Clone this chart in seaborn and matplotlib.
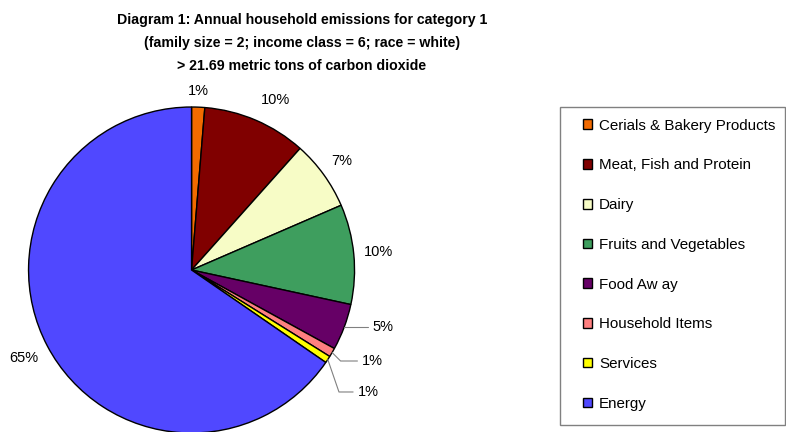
import numpy as np
import seaborn as sns
import matplotlib
matplotlib.use("Agg")
import matplotlib.pyplot as plt
from matplotlib.patches import Rectangle

sns.set_style("white")
plt.rcParams['font.family'] = ['Liberation Sans', 'DejaVu Sans']
plt.rcParams['text.color'] = 'black'

#### data
categories = ['Cerials & Bakery Products', 'Meat, Fish and Protein', 'Dairy',
              'Fruits and Vegetables', 'Food Aw ay', 'Household Items',
              'Services', 'Energy']
shares = [1.3, 10.3, 6.9, 9.9, 4.6, 0.9, 0.7, 65.4]
pct_labels = ['1%', '10%', '7%', '10%', '5%', '1%', '1%', '65%']

colors = ['#F26A00', '#800000', '#F7FCC6', '#3E9E5E', '#660066', '#FF8080',
          '#FFFF00', '#5048FF']
palette = sns.color_palette(colors)

title = ("Diagram 1: Annual household emissions for category 1\n"
         "(family size = 2; income class = 6; race = white)\n"
         "> 21.69 metric tons of carbon dioxide")

fig = plt.figure(figsize=(7.86, 4.32), dpi=100)
ax = fig.add_axes([0.0363, -0.0023, 0.4148, 0.7546])

wedges, _ = ax.pie(shares, colors=palette, startangle=90, counterclock=False,
                   radius=1, wedgeprops=dict(edgecolor='black', linewidth=1))
ax.set_xlim(-1, 1)
ax.set_ylim(-1, 1)
ax.set_aspect('equal')
ax.axis('off')

# labels outside the pie, small slices get a leader line
leader = {4: ((20.6, 0.0), -20), 5: ((21.6, -6.1), -45), 6: ((21.6, -23.4), -71)}
dist = [1.10, 1.16, 1.14, 1.15, 1.14, 1.14, 1.14, 1.16]
shift = [0, 3.0, 0, 0, 0, 0, 0, 0]   # degrees, nudges label along the rim
for i, w in enumerate(wedges):
    ang = np.deg2rad((w.theta1 + w.theta2) / 2 - shift[i])
    x, y = np.cos(ang), np.sin(ang)
    if i in leader:
        off, angB = leader[i]
        ax.annotate(pct_labels[i], xy=(x, y), xytext=off, textcoords='offset points',
                    ha='left', va='center', fontsize=10.5, annotation_clip=False,
                    arrowprops=dict(arrowstyle='-', color='#808080', lw=0.8,
                                    shrinkA=1, shrinkB=0,
                                    connectionstyle='angle,angleA=0,angleB=%d,rad=0' % angB))
    else:
        ax.text(dist[i] * x, dist[i] * y, pct_labels[i], ha='center', va='center',
                fontsize=10.5, clip_on=False)

fig.text(0.384, 0.969, title, ha='center', va='top', fontsize=10.2,
         fontweight='bold', linespacing=1.78)

# legend box
fig.patches.append(Rectangle((560 / 786, 7 / 432), 225 / 786, 318 / 432,
                             transform=fig.transFigure, fill=False,
                             edgecolor='#808080', linewidth=1))
leg = fig.legend(wedges, categories, loc='upper left',
                 bbox_to_anchor=(575 / 786, 1 - 111 / 432), frameon=False,
                 fontsize=10.9, handlelength=0.6, handleheight=0.6,
                 handletextpad=0.5, labelspacing=1.70, borderpad=0)
for h in leg.legend_handles:
    h.set_edgecolor('black')
    h.set_linewidth(1)

fig.savefig('out.png', dpi=100)
